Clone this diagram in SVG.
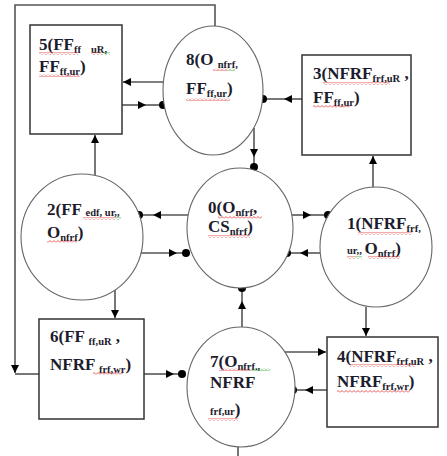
<svg xmlns="http://www.w3.org/2000/svg" width="447" height="456" viewBox="0 0 447 456">
<style>
.box{fill:#fff;stroke:#333;stroke-width:1.5}
.ell{fill:#fff;stroke:#666;stroke-width:1.1}
.c{fill:none;stroke:#555;stroke-width:1.6}
.a{fill:none;stroke:#555;stroke-width:1.6;marker-end:url(#arr)}
.dot{fill:#000}
text{font-family:"Liberation Serif","Times New Roman",serif;font-weight:bold;font-size:17px;fill:#1c1c2c}
.s{font-size:10.5px}
.wr{fill:url(#wavyR)}
.wg{fill:url(#wavyG)}
</style>
<defs>
<marker id="arr" viewBox="0 0 10 10" refX="10" refY="5" markerWidth="9" markerHeight="8" markerUnits="userSpaceOnUse" orient="auto">
<path d="M0,0 L10,5 L0,10 z" fill="#000"/>
</marker>
<pattern id="wavyR" width="4" height="3" patternUnits="userSpaceOnUse">
<path d="M0,2.5 L2,0.5 L4,2.5" fill="none" stroke="#e03030" stroke-width="0.8"/>
</pattern>
<pattern id="wavyG" width="4" height="3" patternUnits="userSpaceOnUse">
<path d="M0,2.5 L2,0.5 L4,2.5" fill="none" stroke="#30a030" stroke-width="0.8"/>
</pattern>
</defs>
<rect width="447" height="456" fill="#fff"/>

<g id="connectors">
<path class="a" d="M215,26 V5 H15 V373"/>
<path class="c" d="M15,374 H39"/>
<path class="a" d="M163,82 H123"/>
<path class="a" d="M122,105 H146"/>
<path class="c" d="M146,105 H163"/>
<circle class="dot" cx="163" cy="105" r="4"/>
<path class="a" d="M302,99 H284"/>
<path class="c" d="M284,99 H263"/>
<circle class="dot" cx="263" cy="99" r="4"/>
<path class="a" d="M254,128 V157"/>
<path class="c" d="M254,157 V167"/>
<circle class="dot" cx="254" cy="167" r="4"/>
<path class="a" d="M373,188 V156"/>
<path class="a" d="M95,175 V135"/>
<path class="a" d="M188,215 H153"/>
<path class="c" d="M153,215 H139"/>
<circle class="dot" cx="139" cy="215" r="4"/>
<path class="a" d="M138,253 H177"/>
<path class="c" d="M177,253 H186"/>
<circle class="dot" cx="186" cy="253" r="4"/>
<path class="a" d="M287,215 H311"/>
<path class="c" d="M311,215 H328"/>
<circle class="dot" cx="328" cy="215" r="4"/>
<path class="a" d="M320,253 H300"/>
<path class="c" d="M300,253 H287"/>
<circle class="dot" cx="287" cy="253" r="4"/>
<path class="a" d="M115,290 V318"/>
<path class="a" d="M144,374 H174"/>
<path class="c" d="M174,374 H182"/>
<circle class="dot" cx="182" cy="374" r="4"/>
<path class="a" d="M242,327 V301"/>
<path class="c" d="M242,301 V288"/>
<circle class="dot" cx="242" cy="288" r="4"/>
<path class="a" d="M284,352 H326"/>
<path class="a" d="M327,390 H305"/>
<path class="c" d="M305,390 H293"/>
<circle class="dot" cx="293" cy="390" r="4"/>
<path class="a" d="M366,307 V336"/>
<path class="c" d="M238,447 V456"/>
</g>

<g id="n5">
<rect class="box" x="30" y="25" width="92" height="109"/>
<text x="39" y="50">5(FF<tspan class="s" dy="3">ff</tspan><tspan class="s" x="91">uR,</tspan></text>
<text x="39" y="72">FF<tspan class="s" dy="3">ff,ur</tspan><tspan dy="-3">)</tspan></text>
<rect class="wr" x="39" y="52" width="39" height="3"/>
<rect class="wr" x="91" y="52" width="11" height="3"/>
<rect class="wg" x="102" y="52" width="8" height="3"/>
<rect class="wr" x="39" y="74" width="41" height="3"/>
</g>

<g id="n8">
<ellipse class="ell" cx="213" cy="90.5" rx="50" ry="64.5"/>
<text x="186" y="65">8(O <tspan class="s" dy="3">nfrf,</tspan></text>
<text x="186" y="94">FF<tspan class="s" dy="3">ff,ur</tspan><tspan dy="-3">)</tspan></text>
<rect class="wr" x="213" y="68" width="15" height="3"/>
<rect class="wg" x="228" y="68" width="7" height="3"/>
<rect class="wr" x="186" y="98" width="44" height="3"/>
</g>

<g id="n3">
<rect class="box" x="302" y="55" width="109" height="100"/>
<text x="313" y="79">3(NFRF<tspan class="s" dy="3">frf,uR</tspan><tspan dy="-3"> ,</tspan></text>
<text x="313" y="103">FF<tspan class="s" dy="3">ff,ur</tspan><tspan dy="-3">)</tspan></text>
<rect class="wr" x="323" y="82" width="67" height="3"/>
<rect class="wr" x="313" y="105" width="37" height="3"/>
</g>

<g id="n2">
<ellipse class="ell" cx="82" cy="237" rx="61" ry="63"/>
<text x="47" y="215">2(FF <tspan class="s" dy="1">edf, ur,,</tspan></text>
<text x="47" y="238">O<tspan class="s" dy="3">nfrf</tspan><tspan dy="-3">)</tspan></text>
<rect class="wr" x="83" y="217" width="32" height="3"/>
<rect class="wg" x="115" y="217" width="6" height="3"/>
<rect class="wr" x="47" y="240" width="30" height="3"/>
</g>

<g id="n0">
<ellipse class="ell" cx="240" cy="228" rx="53" ry="60"/>
<text x="208" y="213">0(O<tspan class="s" dy="3">nfrf</tspan><tspan dy="-3">,</tspan></text>
<text x="208" y="232">CS<tspan class="s" dy="3">nfrf</tspan><tspan dy="-3">)</tspan></text>
<rect class="wr" x="218" y="216" width="44" height="3"/>
<rect class="wr" x="208" y="235" width="42" height="3"/>
</g>

<g id="n1">
<ellipse class="ell" cx="376" cy="247" rx="56" ry="60"/>
<text x="347" y="229">1(NFRF<tspan class="s" dy="3">frf,</tspan></text>
<text x="347" y="254"><tspan class="s">ur,, </tspan>O<tspan class="s" dy="3">nfrf</tspan><tspan dy="-3">)</tspan></text>
<rect class="wr" x="358" y="232" width="54" height="3"/>
<rect class="wr" x="347" y="256" width="8" height="3"/>
<rect class="wg" x="355" y="256" width="7" height="3"/>
<rect class="wr" x="368" y="256" width="32" height="3"/>
</g>

<g id="n6">
<rect class="box" x="39" y="319" width="105" height="100"/>
<text x="50" y="342">6(FF <tspan class="s" dy="3">ff,uR</tspan><tspan dy="-3"> ,</tspan></text>
<text x="50" y="370">NFRF <tspan class="s" dy="3">frf,wr</tspan><tspan dy="-3">)</tspan></text>
<rect class="wr" x="93" y="372" width="30" height="3"/>
</g>

<g id="n7">
<ellipse class="ell" cx="241" cy="387" rx="54" ry="60"/>
<text x="210" y="367">7(O<tspan class="s" dy="3">nfrf.,</tspan></text>
<text x="210" y="388">NFRF</text>
<text x="210" y="415"><tspan class="s">frf,ur</tspan>)</text>
<rect class="wr" x="219" y="368" width="31" height="3"/>
<rect class="wg" x="250" y="368" width="20" height="3"/>
<rect class="wr" x="208" y="418" width="30" height="3"/>
</g>

<g id="n4">
<rect class="box" x="327" y="337" width="111" height="90"/>
<text x="337" y="362">4(NFRF<tspan class="s" dy="3">frf,uR</tspan><tspan dy="-3"> ,</tspan></text>
<text x="337" y="387">NFRF<tspan class="s" dy="3">frf,wr</tspan><tspan dy="-3">)</tspan></text>
<rect class="wr" x="350" y="364" width="65" height="3"/>
<rect class="wr" x="337" y="390" width="73" height="3"/>
</g>
</svg>
